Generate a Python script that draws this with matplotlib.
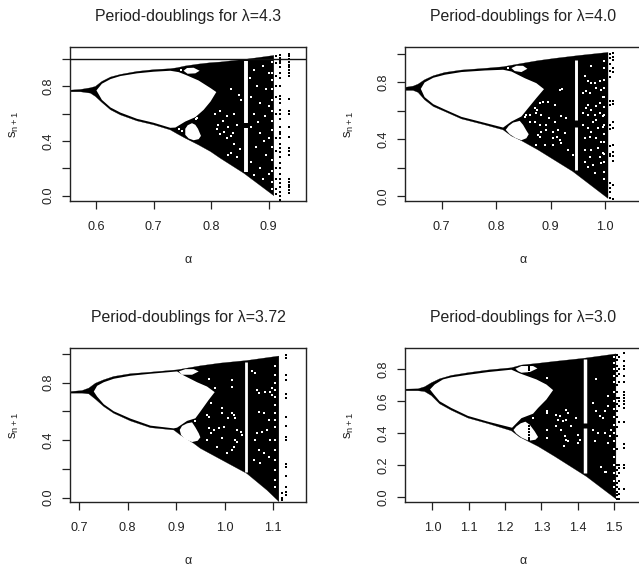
import matplotlib
matplotlib.use("Agg")
import matplotlib.pyplot as plt
import numpy as np

plt.rcParams["font.family"] = ["Liberation Sans", "DejaVu Sans"]
plt.rcParams["mathtext.fontset"] = "custom"
plt.rcParams["mathtext.rm"] = "Liberation Sans"
plt.rcParams["mathtext.it"] = "Liberation Sans"

INK = "#222222"
W, H = 639, 568

# --- lambda = 4.3 ---
a43_top = [0.555, 0.5727, 0.590, 0.5987, 0.610, 0.625, 0.642, 0.671, 0.700, 0.729, 0.741, 0.755, 0.778, 0.799, 0.816, 0.862, 0.909]
s43_top = [0.773, 0.778, 0.790, 0.800, 0.837, 0.869, 0.888, 0.910, 0.923, 0.930, 0.937, 0.950, 0.964, 0.974, 0.979, 1.0, 1.027]
a43_bot = [0.555, 0.5727, 0.590, 0.5987, 0.610, 0.625, 0.642, 0.671, 0.700, 0.729, 0.741, 0.755, 0.778, 0.799, 0.816, 0.857, 0.909]
s43_bot = [0.761, 0.761, 0.751, 0.727, 0.683, 0.629, 0.592, 0.548, 0.519, 0.482, 0.453, 0.421, 0.372, 0.323, 0.274, 0.164, 0.0]
a43_lens = [0.6005, 0.610, 0.625, 0.642, 0.671, 0.700, 0.729, 0.7435, 0.755, 0.778, 0.799, 0.809,
            0.799, 0.787, 0.7725, 0.755, 0.7378, 0.729, 0.700, 0.671, 0.642, 0.625, 0.610]
s43_lens = [0.771, 0.82, 0.854, 0.876, 0.896, 0.908, 0.915, 0.905, 0.886, 0.844, 0.788, 0.759,
            0.690, 0.629, 0.575, 0.543, 0.499, 0.497, 0.534, 0.563, 0.609, 0.646, 0.702]
a43_hole_u = [0.752, 0.758, 0.7696, 0.780, 0.7725, 0.759]
s43_hole_u = [0.915, 0.935, 0.937, 0.915, 0.896, 0.893]
a43_hole_l = [0.755, 0.7592, 0.7667, 0.7725, 0.7771, 0.7823, 0.7783, 0.7696, 0.7609, 0.755]
s43_hole_l = [0.49, 0.516, 0.531, 0.519, 0.49, 0.438, 0.414, 0.406, 0.419, 0.446]
a43_band = 0.8606
s43_band = [(0.983, 0.53), (0.494, 0.176)]
a43_spk = [0.806, 0.815, 0.812, 0.82, 0.822, 0.828, 0.83, 0.835, 0.84, 0.845, 0.828, 0.84, 0.852, 0.848,
           0.835, 0.85, 0.83, 0.835, 0.845, 0.815, 0.81, 0.838, 0.7742, 0.7755, 0.7435, 0.7493, 0.7476,
           0.875, 0.89, 0.88, 0.895, 0.87, 0.885, 0.90, 0.875, 0.893, 0.87, 0.885, 0.90, 0.878, 0.895,
           0.87, 0.885, 0.90, 0.89, 0.875, 0.905, 0.905, 0.90, 0.868, 0.882, 0.892,
           0.906, 0.906, 0.906, 0.906, 0.906, 0.906, 0.906, 0.906, 0.906, 0.906, 0.906]
s43_spk = [0.60, 0.62, 0.52, 0.55, 0.47, 0.58, 0.50, 0.44, 0.60, 0.52, 0.42, 0.38, 0.70, 0.74,
           0.78, 0.34, 0.30, 0.31, 0.28, 0.45, 0.49, 0.46, 0.563, 0.57, 0.487, 0.475, 0.923,
           0.92, 0.95, 0.80, 0.78, 0.72, 0.68, 0.66, 0.60, 0.58, 0.50, 0.46, 0.42, 0.36, 0.30,
           0.25, 0.20, 0.16, 0.12, 0.15, 0.55, 0.85, 0.90, 0.86, 0.54, 0.40,
           0.98, 0.9, 0.78, 0.7, 0.62, 0.48, 0.36, 0.26, 0.18, 0.1, 0.05]
a43_cols = [0.9135, 0.9195, 0.935]
s43_cols = [[1.02, 0.97, 0.88, 0.8, 0.72, 0.6, 0.42, 0.33, 0.2, 0.12, 0.05, 0.01],
            [1.03, 1.01, 0.99, 0.97, 0.94, 0.9, 0.86, 0.8, 0.73, 0.71, 0.68, 0.63, 0.6, 0.56, 0.5, 0.47,
             0.45, 0.42, 0.38, 0.35, 0.32, 0.28, 0.24, 0.2, 0.16, 0.12, 0.09, 0.06, 0.03, 0.0, -0.03],
            [1.04, 1.02, 1.0, 0.98, 0.96, 0.94, 0.92, 0.9, 0.88, 0.71, 0.62, 0.6, 0.5, 0.43, 0.35, 0.33,
             0.3, 0.12, 0.1, 0.08, 0.06, 0.04, 0.02]]

# --- lambda = 4.0 ---
a40_top = [0.6327, 0.648, 0.657, 0.669, 0.685, 0.706, 0.7366, 0.7794, 0.813, 0.8405, 0.877, 0.9077, 0.9535, 1.0055]
s40_top = [0.765, 0.774, 0.788, 0.819, 0.847, 0.870, 0.887, 0.899, 0.910, 0.929, 0.953, 0.969, 0.99, 1.011]
a40_bot = [0.6327, 0.648, 0.657, 0.669, 0.685, 0.706, 0.7366, 0.7794, 0.813, 0.8283, 0.8466, 0.877, 0.941, 1.0055]
s40_bot = [0.744, 0.744, 0.730, 0.678, 0.631, 0.596, 0.544, 0.502, 0.467, 0.424, 0.391, 0.326, 0.174, -0.015]
a40_lens = [0.662, 0.669, 0.685, 0.706, 0.7366, 0.7794, 0.813, 0.8282, 0.8527, 0.874, 0.888,
            0.874, 0.8588, 0.8466, 0.8282, 0.813, 0.7794, 0.7366, 0.706, 0.685, 0.669]
s40_lens = [0.755, 0.800, 0.833, 0.854, 0.873, 0.884, 0.889, 0.877, 0.830, 0.795, 0.753,
            0.690, 0.619, 0.561, 0.525, 0.483, 0.516, 0.558, 0.610, 0.647, 0.697]
a40_hole_u = [0.8282, 0.8374, 0.8496, 0.8575, 0.8466, 0.8343]
s40_hole_u = [0.901, 0.917, 0.917, 0.896, 0.873, 0.880]
a40_hole_l = [0.8178, 0.8233, 0.8313, 0.8435, 0.8496, 0.8557, 0.86, 0.8557, 0.8466, 0.8356, 0.8252]
s40_hole_l = [0.467, 0.495, 0.518, 0.53, 0.502, 0.462, 0.436, 0.408, 0.394, 0.41, 0.436]
a40_band = 0.9462
s40_band = [(0.96, 0.537), (0.485, 0.185)]
a40_spk = [0.963, 0.969, 0.975, 0.990, 0.981, 0.975, 0.966, 0.972, 0.984, 0.993, 0.996, 0.960, 0.969, 0.966,
           0.975, 0.984, 0.990, 0.960, 0.969, 0.981, 0.990, 0.996, 0.960, 0.969, 0.978, 0.984, 0.987, 0.975,
           0.996, 0.963, 0.972, 0.984, 0.993, 0.963, 0.975, 0.987, 0.996, 0.969, 0.978, 0.990, 0.981, 0.993,
           0.972, 0.963,
           0.921, 0.917, 0.880, 0.871, 0.874, 0.875, 0.886, 0.895, 0.908, 0.883, 0.8618, 0.8557, 0.877, 0.880,
           0.8618, 0.871, 0.880, 0.892, 0.892, 0.905, 0.911, 0.917, 0.905, 0.898, 0.908, 0.920, 0.929, 0.926,
           0.920, 0.889, 0.874, 0.932, 0.941, 0.905, 0.914, 0.883, 0.8527, 0.822,
           0.999, 0.999, 0.999, 0.999, 0.999, 0.999, 0.999, 0.999, 0.999, 0.999, 0.999, 0.999, 0.999, 0.999]
s40_spk = [0.842, 0.807, 0.795, 0.807, 0.795, 0.913, 0.737, 0.725, 0.760, 0.748, 0.701, 0.725, 0.643, 0.619,
           0.608, 0.631, 0.655, 0.584, 0.572, 0.572, 0.584, 0.561, 0.502, 0.478, 0.525, 0.537, 0.478, 0.455,
           0.490, 0.408, 0.420, 0.408, 0.385, 0.326, 0.326, 0.338, 0.302, 0.209, 0.220, 0.279, 0.162, 0.232,
           0.279, 0.244,
           0.753, 0.748, 0.655, 0.619, 0.584, 0.608, 0.666, 0.666, 0.643, 0.572, 0.572, 0.572, 0.432, 0.420,
           0.525, 0.525, 0.502, 0.502, 0.467, 0.455, 0.420, 0.396, 0.408, 0.549, 0.525, 0.561, 0.549, 0.443,
           0.373, 0.361, 0.361, 0.326, 0.291, 0.361, 0.467, 0.455, 0.556, 0.901,
           0.95, 0.9, 0.82, 0.76, 0.7, 0.63, 0.57, 0.5, 0.44, 0.38, 0.3, 0.24, 0.17, 0.12]
a40_cols = [1.0085, 1.0147]
s40_cols = [[1.0, 0.97, 0.93, 0.88, 0.84, 0.67, 0.64, 0.5, 0.47, 0.35, 0.3, 0.28, 0.09, 0.06, 0.03, -0.01],
            [1.01, 0.98, 0.96, 0.9, 0.87, 0.67, 0.65, 0.52, 0.48, 0.36, 0.31, 0.28, 0.25, 0.08, -0.02]]

# --- lambda = 3.72 ---
a372_top = [0.682, 0.706, 0.7198, 0.7335, 0.7507, 0.7713, 0.8057, 0.847, 0.902, 0.9226, 0.950, 0.9913, 1.046, 1.112]
s372_top = [0.737, 0.744, 0.761, 0.795, 0.819, 0.842, 0.861, 0.872, 0.888, 0.900, 0.916, 0.935, 0.953, 0.984]
a372_bot = [0.682, 0.706, 0.7198, 0.7335, 0.7507, 0.7713, 0.8057, 0.847, 0.895, 0.9088, 0.9363, 0.950, 1.046, 1.0876, 1.112]
s372_bot = [0.726, 0.726, 0.721, 0.684, 0.633, 0.586, 0.533, 0.486, 0.470, 0.435, 0.377, 0.342, 0.167, 0.051, -0.028]
a372_lens = [0.7301, 0.737, 0.7507, 0.7713, 0.8057, 0.847, 0.902, 0.9157, 0.9432, 0.9638, 0.9796,
             0.9672, 0.950, 0.9397, 0.9226, 0.902, 0.895, 0.847, 0.8057, 0.7713, 0.7507, 0.737]
s372_lens = [0.737, 0.777, 0.802, 0.826, 0.847, 0.861, 0.877, 0.849, 0.802, 0.772, 0.733,
             0.679, 0.598, 0.551, 0.533, 0.486, 0.481, 0.500, 0.549, 0.600, 0.649, 0.702]
a372_hole_u = [0.9054, 0.9191, 0.9363, 0.9466, 0.9329, 0.9122]
s372_hole_u = [0.877, 0.893, 0.893, 0.877, 0.854, 0.854]
a372_hole_l = [0.9074, 0.9122, 0.9226, 0.9329, 0.9397, 0.9466, 0.95, 0.9445, 0.9329, 0.9191, 0.9102]
s372_hole_l = [0.470, 0.498, 0.516, 0.523, 0.488, 0.447, 0.419, 0.395, 0.386, 0.405, 0.435]
a372_band = 1.045
s372_band = [(0.94, 0.179)]
a372_spk = [0.967, 0.981, 1.015, 1.015, 1.067, 1.070, 1.084, 1.094, 1.098, 1.098, 0.971, 0.995, 0.995, 0.964,
            0.967, 1.015, 1.019, 1.022, 1.008, 1.070, 1.081, 1.091, 0.967, 0.978, 0.988, 0.998, 0.971, 1.026,
            1.033, 1.022, 1.026, 1.036, 1.019, 1.015, 1.005, 1.063, 1.067, 1.077, 1.088, 1.070, 1.081, 1.091,
            1.060, 1.074, 1.063, 1.057, 0.995, 0.984, 0.964, 1.094, 0.9397,
            1.104, 1.104, 1.104, 1.104, 1.104, 1.104, 1.104, 1.104, 1.104, 1.104, 1.104, 1.104, 1.104, 1.104, 1.104]
s372_spk = [0.823, 0.761, 0.819, 0.772, 0.749, 0.726, 0.737, 0.737, 0.761, 0.714, 0.656, 0.586, 0.621, 0.574,
            0.563, 0.586, 0.574, 0.551, 0.551, 0.598, 0.586, 0.540, 0.481, 0.470, 0.481, 0.493, 0.446, 0.470,
            0.458, 0.400, 0.388, 0.435, 0.353, 0.330, 0.307, 0.400, 0.446, 0.458, 0.470, 0.330, 0.307, 0.284,
            0.260, 0.237, 0.865, 0.877, 0.412, 0.353, 0.400, 0.400, 0.535,
            0.912, 0.854, 0.795, 0.749, 0.702, 0.644, 0.586, 0.54, 0.493, 0.400, 0.330, 0.260, 0.191, 0.121, 0.074]
a372_cols = [1.118, 1.1275]
s372_cols = [[0.03, 0.0, -0.02],
             [0.99, 0.97, 0.85, 0.82, 0.72, 0.69, 0.56, 0.5, 0.42, 0.4, 0.23, 0.21, 0.15, 0.07, 0.04, 0.02]]

# --- lambda = 3.0 ---
a30_top = [0.9237, 0.9604, 0.9788, 0.9971, 1.02, 1.052, 1.098, 1.153, 1.2174, 1.245, 1.291, 1.3367, 1.415, 1.505]
s30_top = [0.676, 0.678, 0.691, 0.716, 0.741, 0.762, 0.779, 0.796, 0.810, 0.827, 0.838, 0.850, 0.869, 0.897]
a30_bot = [0.9237, 0.9604, 0.9788, 0.9971, 1.02, 1.052, 1.098, 1.153, 1.2174, 1.2403, 1.291, 1.3367, 1.424, 1.505]
s30_bot = [0.666, 0.666, 0.661, 0.636, 0.584, 0.544, 0.495, 0.460, 0.415, 0.376, 0.317, 0.254, 0.128, -0.012]
a30_lens = [0.9934, 1.0063, 1.0292, 1.052, 1.098, 1.153, 1.2174, 1.2403, 1.2862, 1.3137, 1.3321,
            1.3137, 1.2908, 1.277, 1.245, 1.2192, 1.153, 1.098, 1.052, 1.02, 1.0045]
s30_lens = [0.674, 0.705, 0.737, 0.750, 0.766, 0.783, 0.798, 0.775, 0.737, 0.705, 0.670,
            0.611, 0.558, 0.522, 0.494, 0.434, 0.472, 0.508, 0.558, 0.600, 0.642]
a30_hole_u = [1.2284, 1.245, 1.277, 1.289, 1.2679, 1.245, 1.2358]
s30_hole_u = [0.804, 0.821, 0.821, 0.806, 0.783, 0.779, 0.789]
a30_hole_l = [1.2230, 1.2310, 1.2431, 1.2559, 1.2679, 1.2816, 1.2908, 1.2835, 1.2651, 1.2449, 1.2311]
s30_hole_l = [0.420, 0.442, 0.462, 0.472, 0.453, 0.411, 0.376, 0.359, 0.352, 0.373, 0.397]
a30_band = 1.4203
s30_band = [(0.863, 0.464), (0.432, 0.149)]
a30_spk = [1.277, 1.314, 1.314, 1.3165, 1.3413, 1.3505, 1.3689, 1.3734, 1.346, 1.3689, 1.3597, 1.3964, 1.314, 1.3413,
           1.355, 1.3826, 1.314, 1.3643, 1.3689, 1.3734, 1.401, 1.4056, 1.3624, 1.401, 1.4515, 1.4423, 1.4744, 1.4515,
           1.4607, 1.4698, 1.4423, 1.456, 1.4744, 1.4469, 1.4652, 1.4744, 1.479, 1.4836, 1.4836, 1.4928, 1.488, 1.4836,
           1.5, 1.5, 1.5, 1.5, 1.5, 1.5, 1.5, 1.5, 1.5, 1.5, 1.5, 1.5, 1.5, 1.5, 1.5, 1.5, 1.5, 1.5]
s30_spk = [0.4955, 0.7475, 0.5375, 0.527, 0.5165, 0.506, 0.548, 0.527, 0.485, 0.485, 0.4745, 0.4955, 0.422, 0.443,
           0.422, 0.443, 0.3695, 0.38, 0.359, 0.3485, 0.3905, 0.359, 0.317, 0.338, 0.737, 0.59, 0.5375, 0.5375,
           0.506, 0.4955, 0.422, 0.401, 0.401, 0.3485, 0.191, 0.1595, 0.1595, 0.632, 0.569, 0.422, 0.38, 0.338,
           0.88, 0.84, 0.8, 0.76, 0.72, 0.66, 0.6, 0.55, 0.5, 0.45, 0.4, 0.35, 0.3, 0.25, 0.2, 0.15, 0.1, 0.06]
a30_cols = [1.266, 1.266, 1.508, 1.513, 1.5266]
s30_cols = [[0.443, 0.425, 0.407, 0.389, 0.371, 0.359],
            [0.821, 0.807, 0.793, 0.779],
            [0.89, 0.86, 0.82, 0.79, 0.76, 0.7, 0.66, 0.62, 0.58, 0.54, 0.5, 0.44, 0.38, 0.3, 0.2, 0.17, 0.13, 0.09, 0.06, 0.03, 0.01, -0.01],
            [0.88, 0.8, 0.77, 0.72, 0.62, 0.6, 0.57, 0.47, 0.2, 0.18, 0.15, 0.1, 0.05, 0.02, -0.015],
            [0.9, 0.85, 0.82, 0.8, 0.76, 0.72, 0.66, 0.64, 0.62, 0.6, 0.58, 0.56, 0.47, 0.33, 0.31, 0.2, 0.18, 0.05]]

titles = ["Period-doublings for \u03bb=4.3", "Period-doublings for \u03bb=4.0",
          "Period-doublings for \u03bb=3.72", "Period-doublings for \u03bb=3.0"]
x_ticks = [[0.6, 0.7, 0.8, 0.9], [0.7, 0.8, 0.9, 1.0],
           [0.7, 0.8, 0.9, 1.0, 1.1], [1.0, 1.1, 1.2, 1.3, 1.4, 1.5]]
y_ticks = [[0, 0.2, 0.4, 0.6, 0.8, 1.0], [0, 0.2, 0.4, 0.6, 0.8, 1.0],
           [0, 0.2, 0.4, 0.6, 0.8, 1.0], [0, 0.2, 0.4, 0.6, 0.8]]
y_labels = [["0.0", "", "0.4", "", "0.8", ""], ["0.0", "", "0.4", "", "0.8", ""],
            ["0.0", "", "0.4", "", "0.8", ""], ["0.0", "0.2", "0.4", "0.6", "0.8"]]
x_lims = [(0.5545, 0.965), (0.633, 1.066), (0.681, 1.168), (0.9246, 1.574)]
y_lims = [(-0.039, 1.089), (-0.033, 1.049), (-0.031, 1.04), (-0.0315, 0.934)]
boxes = [(70, 47, 306, 201), (405, 47, 641, 201), (70, 348, 306, 502), (405, 348, 641, 502)]
band_widths = [2.8, 2.1, 2.0, 2.5]

panels = [
    (a43_top, s43_top, a43_bot, s43_bot, a43_lens, s43_lens, a43_hole_u, s43_hole_u, a43_hole_l, s43_hole_l,
     a43_band, s43_band, a43_spk, s43_spk, a43_cols, s43_cols),
    (a40_top, s40_top, a40_bot, s40_bot, a40_lens, s40_lens, a40_hole_u, s40_hole_u, a40_hole_l, s40_hole_l,
     a40_band, s40_band, a40_spk, s40_spk, a40_cols, s40_cols),
    (a372_top, s372_top, a372_bot, s372_bot, a372_lens, s372_lens, a372_hole_u, s372_hole_u, a372_hole_l, s372_hole_l,
     a372_band, s372_band, a372_spk, s372_spk, a372_cols, s372_cols),
    (a30_top, s30_top, a30_bot, s30_bot, a30_lens, s30_lens, a30_hole_u, s30_hole_u, a30_hole_l, s30_hole_l,
     a30_band, s30_band, a30_spk, s30_spk, a30_cols, s30_cols),
]

fig = plt.figure(figsize=(W / 100, H / 100), dpi=100)

for i, p in enumerate(panels):
    at, st, ab, sb, al, sl, ahu, shu, ahl, shl, aband, sband, aspk, sspk, acols, scols = p
    l, t, r, b = boxes[i]
    ax = fig.add_axes([l / W, 1 - b / H, (r - l) / W, (b - t) / H])

    # black body of the orbit diagram, then the white windows on top
    ax.fill(at + ab[::-1], st + sb[::-1], color="black", lw=0.2, zorder=1)
    ax.fill(al, sl, color="white", lw=0, zorder=2)
    ax.fill(ahu, shu, color="white", lw=0, zorder=2)
    ax.fill(ahl, shl, color="white", lw=0, zorder=2)
    for hi, lo in sband:
        ax.vlines(aband, lo, hi, color="white", lw=band_widths[i], zorder=2)
    ax.scatter(aspk, sspk, s=1.5, c="white", marker="s", linewidths=0, zorder=3)
    for a, col in zip(acols, scols):
        ax.scatter(np.full(len(col), a), col, s=3.0, c="black", marker="s", linewidths=0, zorder=4)

    if i == 0:
        ax.axhline(1.0, color="#111111", lw=1.0, zorder=5)

    ax.set_xlim(*x_lims[i])
    ax.set_ylim(*y_lims[i])
    ax.set_xticks(x_ticks[i])
    ax.set_xticklabels(["%.1f" % v for v in x_ticks[i]])
    ax.set_yticks(y_ticks[i])
    ax.set_yticklabels(y_labels[i], rotation=90, va="center")
    ax.tick_params(length=6, width=0.9, color=INK, labelcolor=INK, labelsize=9.1)
    ax.tick_params(axis="x", pad=8.5)
    ax.tick_params(axis="y", pad=5)
    for sp in ax.spines.values():
        sp.set_linewidth(1.0)
        sp.set_color(INK)

    ax.set_title(titles[i], fontsize=11.4, color=INK, pad=19)
    ax.set_xlabel("\u03b1", fontsize=9, color=INK, labelpad=15)
    ax.set_ylabel(r"$\mathregular{s_{n+1}}$", fontsize=9.5, color=INK, labelpad=15.3)

fig.savefig("out.png", dpi=100)
